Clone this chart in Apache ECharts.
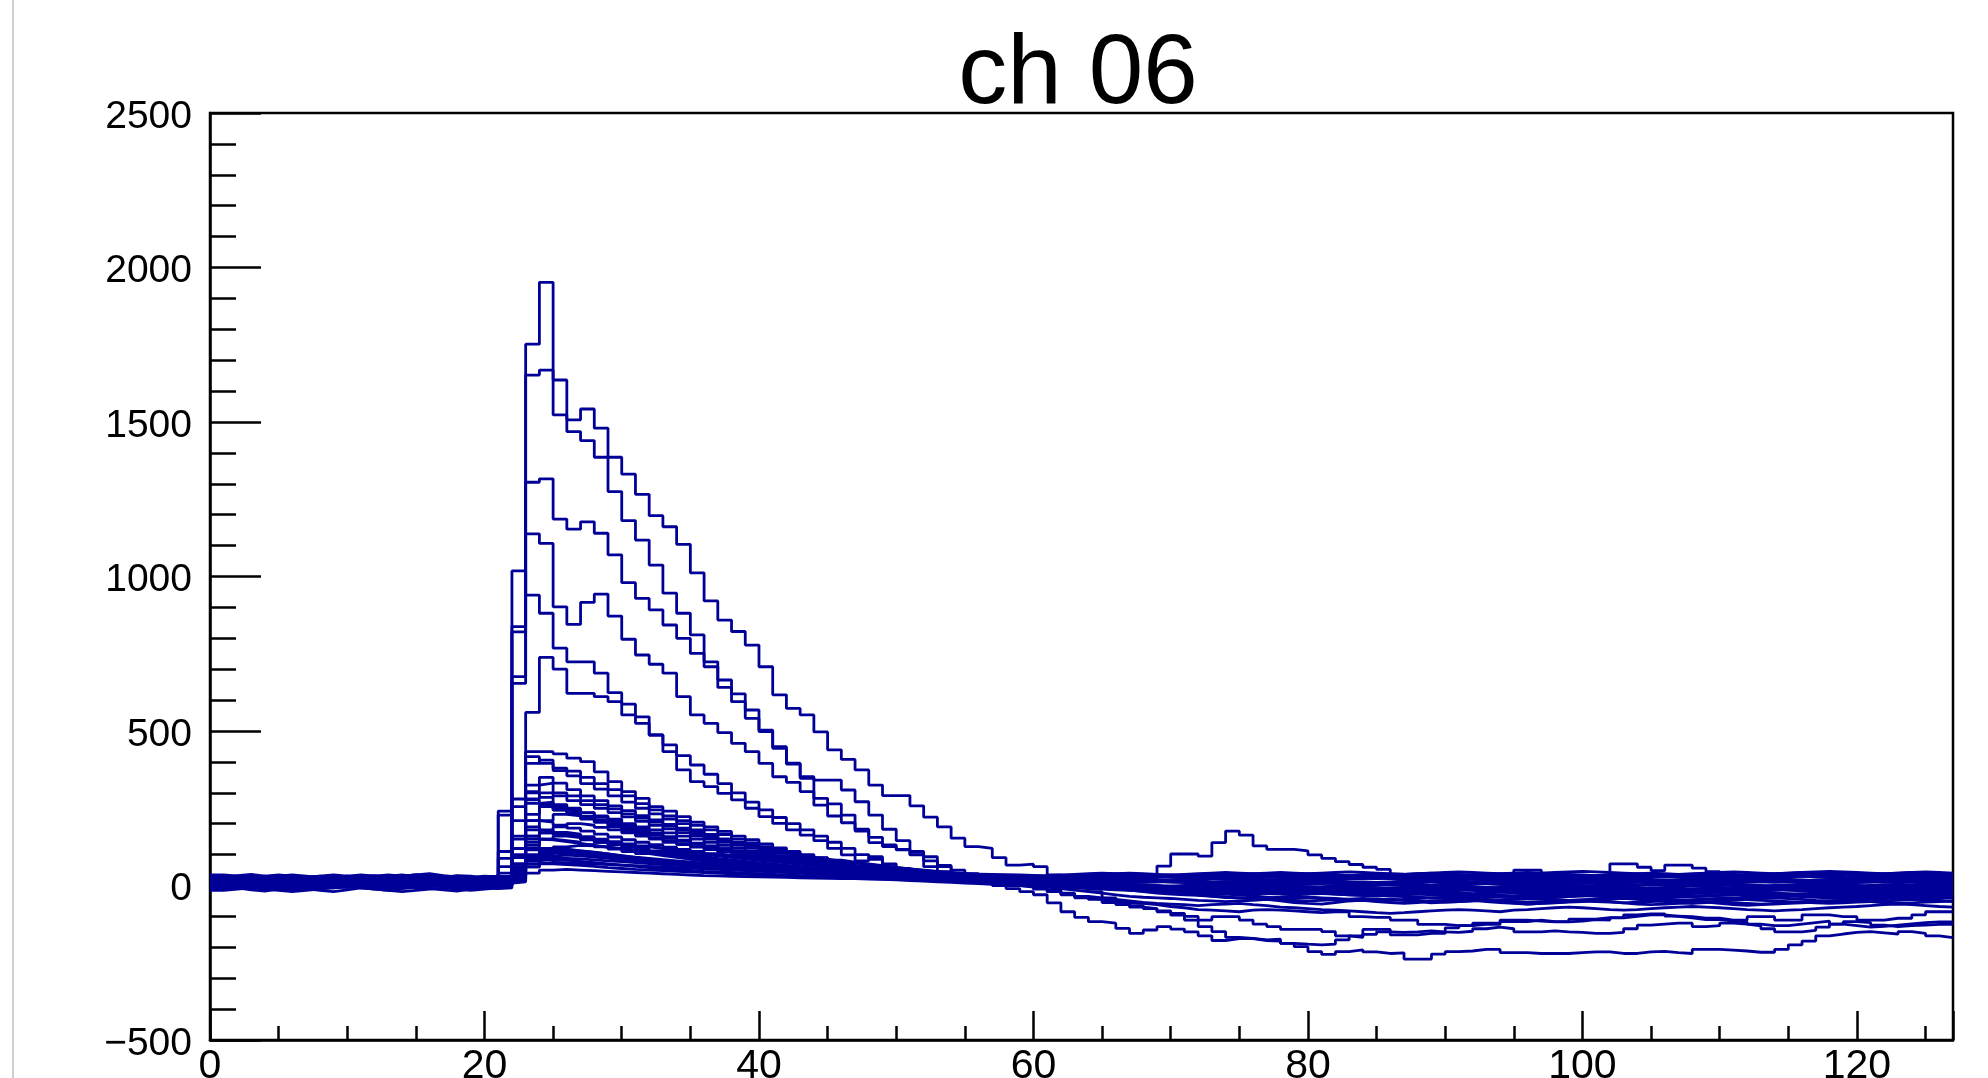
<!DOCTYPE html>
<html>
<head>
<meta charset="utf-8">
<script src="https://cdn.jsdelivr.net/npm/echarts@6/dist/echarts.min.js"></script>
<style>
html,body{margin:0;padding:0;background:#fff;}
#chart{width:1988px;height:1078px;}
</style>
</head>
<body>
<div id="chart"></div>
<script>
// Histogram bins: 0..126 (bin i spans [i, i+1])
const titleText = "ch 06";
const xMin = 0, xMax = 127;
const yMin = -500, yMax = 2500;

const p1 = [
 12,15,10,8,14,18,16,12,10,15,20,18,12,10,8,12,15,18,14,10,12,
 15,838,
 1752,1952,1636,1507,1542,1480,1386,1331,
 1266,1197,1161,1104,1012,921,859,822,778,708,
 617,573,552,497,439,408,374,325,291,291,
 258,221,190,153,126,120,90,66,69,61,
 34,20,5,-20,-40,-55,-65,-75,-85,-96,
 -112,-133,-149,-168,-171,-176,-174,-187,-190,-192,
 -190,-176,-163,-142,-142,-160,-160,-155,-155,-137,
 -130,-122,-122,-112,-112,-115,-118,-118,-115,-110,
 -112,-105,-100,-95,-95,-100,-105,-110,-110,-115,
 -118,-125,-130,-130,-125,-120,-115,-125,-130,-135,
 -132,-128,-124,-120,-118,-118];

const p2 = [
 5,8,12,15,10,6,9,14,18,12,8,5,10,14,16,12,9,6,10,14,8,
 10,821,
 1652,1668,1523,1469,1440,1386,1275,1181,
 1118,1037,946,881,811,724,665,620,568,503,
 449,393,352,341,341,309,271,228,182,145,
 110,93,61,40,25,10,0,-10,-20,-30,
 -56,-85,-103,-117,-122,-139,-155,-144,-133,-141,
 -150,-163,-178,-172,-172,-178,-180,-187,-198,-214,
 -223,-214,-208,-215,-220,-218,-238,-238,-222,-214,
 -212,-207,-207,-217,-217,-220,-220,-220,-217,-215,
 -215,-220,-220,-215,-213,-217,-220,-207,-207,-209,
 -212,-216,-216,-207,-192,-180,-163,-157,-152,-149,
 -153,-157,-149,-155,-163,-169];

const p3 = [
 18,14,10,12,16,20,22,18,14,10,12,16,20,24,18,14,12,16,20,18,15,
 18,676,
 1305,1316,1186,1153,1177,1140,1070,980,
 929,892,843,800,751,708,641,595,541,498,
 444,396,347,282,264,228,182,139,126,117,
 99,61,45,35,25,18,10,5,0,-10,
 -20,-30,-40,-45,-50,-55,-58,-62,-68,-72,
 -78,-80,-82,-85,-80,-78,-80,-82,-85,-88,
 -85,-85,-101,-103,-103,-112,-112,-126,-126,-130,
 -130,-126,-126,-117,-117,-112,-117,-117,-109,-109,
 -104,-104,-95,-92,-92,-99,-101,-106,-106,-112,
 -112,-101,-101,-112,-112,-95,-95,-101,-101,-112,
 -112,-106,-106,-95,-85,-85];

const p4 = [
 0,4,8,6,2,-4,2,6,10,8,4,0,-2,4,8,12,6,2,-2,4,6,
 5,654,
 1138,1107,902,845,916,943,872,797,
 746,716,687,611,552,525,495,460,433,395,
 352,334,304,260,225,203,176,156,131,115,
 100,80,65,50,38,28,20,10,2,-5,
 -15,-25,-35,-45,-55,-62,-70,-75,-82,-90,
 -100,-112,-101,-101,-112,-125,-133,-142,-142,-142,
 -149,-163,-168,-158,-150,-152,-150,-147,-150,-152,
 -148,-140,-135,-140,-150,-150,-147,-150,-152,-155,
 -155,-152,-140,-128,-125,-122,-122,-133,-130,-122,
 -125,-131,-140,-150,-150,-145,-135,-125,-117,-120,
 -128,-133,-130,-128,-126,-126];

const p5 = [
 22,18,14,20,24,28,22,16,20,24,26,22,18,22,26,30,24,20,16,22,25,
 20,1018,
 940,881,768,724,724,687,624,587,
 546,487,433,374,336,320,298,277,250,223,
 201,180,163,145,120,99,80,93,61,50,
 42,35,30,25,20,12,8,0,-5,-12,
 -20,-28,-35,-40,-45,-50,-55,-58,-60,-62,
 -65,-62,-60,-58,-62,-65,-70,-72,-75,-78,
 -80,-82,-85,-88,-90,-88,-85,-82,-80,-78,
 -80,-82,-85,-80,-78,-75,-72,-70,-72,-75,
 -78,-80,-78,-75,-72,-70,-68,-70,-72,-75,
 -78,-80,-82,-80,-78,-75,-72,-70,-68,-65,
 -62,-60,-62,-65,-68,-70];

const p6 = [
 8,12,16,10,6,12,18,14,8,4,10,16,14,8,6,10,14,18,12,8,10,
 12,280,
 560,738,700,622,622,611,595,552,
 525,487,455,420,390,360,330,300,270,245,
 220,200,180,160,140,120,100,85,70,55,
 45,38,30,25,20,15,10,5,0,-5,
 -10,-15,-20,-25,-30,-35,-38,-40,-42,-45,
 -48,-50,-52,-50,-48,-45,-50,-55,-58,-60,
 -55,-50,-48,-52,-55,-58,-55,-50,-48,-45,
 -48,-52,-55,-58,-60,-58,-55,-52,-50,-48,
 -45,-42,-45,-48,-52,-55,-58,-55,-50,-48,
 -45,-42,-40,-42,-45,-48,-50,-48,-45,-42,
 -40,-42,-45,-48,-50,-52];

const p7 = [
 15,10,6,10,14,10,6,2,8,12,16,12,6,4,8,12,8,4,8,12,10,
 8,150,
 433,433,426,412,401,368,336,304,
 282,255,241,223,205,190,175,160,148,135,
 122,110,100,90,80,72,64,56,50,44,
 38,32,28,24,20,18,15,12,10,8,
 5,2,0,-5,-10,-15,-20,-25,-28,-30,
 -32,-35,-38,-40,-42,-40,-38,-35,-38,-40,
 -42,-45,-48,-50,-48,-45,-42,-40,-38,-40,
 -42,-45,-48,-45,-42,-40,-38,-35,-32,-35,
 -38,-40,-42,-45,-48,-50,-48,-45,-42,-40,
 -38,-35,-32,-30,-32,-35,-38,-40,-38,-35,
 -32,-30,-32,-35,-38,-40];

const p8 = [
 2,6,10,14,10,6,2,-2,4,8,12,8,4,0,4,10,14,10,6,2,5,
 4,120,
 417,395,380,370,350,330,310,290,
 265,245,225,210,195,180,165,150,138,126,
 115,105,95,86,78,70,62,55,48,42,
 36,30,26,22,18,14,10,8,5,3,
 0,-2,-5,-8,-10,-12,-10,-8,-12,-15,
 -18,-15,-12,-10,-12,-15,-18,-20,-18,-15,
 -12,-10,-12,-15,-18,-20,-22,-20,-18,-15,
 -12,-15,-18,-20,-22,-25,-22,-20,-18,-15,
 -12,-10,-12,-15,-18,-20,-18,-15,-12,-10,
 -8,-10,-12,-15,-18,-15,-12,-10,-8,-10,
 -12,-15,-18,-15,-12,-10];

const p9 = [
 20,24,18,14,18,22,26,20,16,12,18,22,26,22,18,14,18,24,28,22,18,
 20,90,
 395,406,372,355,330,312,290,270,
 250,232,215,200,180,165,150,138,126,115,
 105,96,88,80,72,65,58,52,46,40,
 35,30,26,22,20,18,16,15,14,12,
 10,12,14,16,18,20,22,24,63,102,
 102,95,139,176,163,128,117,117,112,99,
 88,77,68,59,52,37,30,28,25,22,
 20,18,22,25,20,18,15,12,15,18,
 20,18,15,12,10,12,15,18,20,18,
 15,12,10,12,15,18,20,18,15,12,
 10,12,15,18,20,18];

const p10 = [
 -5,0,4,8,4,0,-4,0,6,10,6,2,-2,2,6,10,6,0,-4,2,4,
 2,60,
 325,331,300,290,275,262,248,232,
 218,205,192,180,168,156,145,134,124,114,
 105,96,88,80,72,65,58,52,46,40,
 35,30,26,22,18,15,12,10,8,5,
 2,0,-2,-5,-8,-10,-12,-15,-18,-20,
 -22,-25,-28,-30,-28,-25,-22,-20,-22,-25,
 -28,-30,-32,-30,-28,-25,-22,-20,-22,-25,
 -28,-30,-32,-35,-32,-30,-28,-25,-22,-20,
 -22,-25,-28,-30,-28,-25,-22,-20,-18,-20,
 -22,-25,-28,-30,-32,-30,-28,-25,-22,-20,
 -22,-25,-28,-30,-28,-25];

const p11 = [
 10,14,18,14,10,6,10,14,18,22,18,14,10,14,18,22,18,14,10,14,18,
 241,255,
 266,270,255,245,235,225,215,200,
 190,180,170,160,150,140,130,120,112,104,
 96,88,80,74,68,62,56,50,45,40,
 36,32,28,25,22,20,18,16,15,14,
 12,14,16,18,15,12,10,12,14,16,
 18,20,22,20,18,16,14,12,14,16,
 18,20,22,24,22,20,18,16,18,20,
 22,24,26,24,50,50,22,20,18,16,
 18,20,22,20,18,16,14,12,14,16,
 18,20,22,20,18,16,14,12,10,12,
 14,16,18,20,22,20];

const p12 = [
 0,-4,-8,-4,0,4,0,-4,-8,-4,0,4,8,4,0,-4,0,4,8,4,0,
 228,210,
 230,255,245,240,220,205,190,178,
 166,155,145,135,126,118,110,102,95,88,
 82,76,70,64,58,52,47,42,38,34,
 30,27,24,21,18,15,12,10,8,6,
 4,2,0,-2,-4,-6,-8,-10,-8,-6,
 -4,-2,0,2,4,2,0,-2,-4,-6,
 -8,-10,-12,-10,-8,-6,-4,-2,0,2,
 4,6,4,2,0,-2,-4,-6,-4,-2,
 2,70,70,59,48,66,66,56,45,35,
 30,25,20,18,15,12,10,8,10,12,
 14,12,10,8,10,12];

const m1 = [
 24,20,26,30,24,18,22,28,32,26,20,24,30,34,28,22,26,32,30,24,20,
 22,60,
 300,285,262,250,236,222,208,195,
 182,170,158,147,137,127,118,110,102,95,
 88,82,76,70,65,60,55,51,47,43,
 40,37,34,31,29,27,25,23,22,21,
 22,24,26,28,30,32,30,28,26,24,
 22,24,26,28,30,28,26,24,22,24,
 26,28,30,32,34,32,30,28,26,28,
 30,32,30,28,26,24,26,28,30,32,
 34,36,34,32,30,28,30,32,34,36,
 34,32,30,28,30,32,34,36,38,36,
 34,32,30,32,34,36];

const m2 = [
 -12,-8,-14,-18,-12,-6,-10,-16,-20,-14,-8,-12,-16,-10,-6,-10,-14,-18,-12,-8,-10,
 -8,45,
 210,260,248,236,224,212,200,188,
 176,165,155,145,136,127,119,111,104,97,
 90,84,78,72,67,62,57,53,49,45,
 41,37,34,31,28,25,22,19,16,13,
 10,6,2,-2,-6,-10,-14,-18,-22,-26,
 -30,-28,-26,-30,-34,-38,-42,-40,-38,-42,
 -46,-50,-48,-46,-44,-48,-52,-56,-54,-52,
 -50,-48,-52,-56,-60,-58,-56,-54,-52,-50,
 -52,-56,-60,-62,-60,-58,-56,-54,-58,-62,
 -64,-62,-60,-58,-56,-54,-52,-50,-48,-52,
 -56,-58,-56,-54,-52,-50];

const m3 = [
 6,10,14,18,14,10,6,2,6,10,14,18,22,18,14,10,6,10,14,18,14,
 110,160,
 210,205,195,186,176,166,157,148,
 140,132,124,117,110,103,97,91,85,80,
 75,70,66,62,58,54,50,47,44,41,
 38,35,32,30,28,26,24,22,20,18,
 16,14,12,10,8,10,12,14,16,18,
 20,22,24,22,20,18,16,14,16,18,
 20,22,24,26,24,22,20,18,16,14,
 12,14,16,18,20,22,24,22,20,18,
 16,14,12,14,16,18,20,22,24,26,
 24,22,20,18,16,14,16,18,20,22,
 24,26,28,26,24,22];

const m4 = [
 28,32,36,30,26,22,26,30,34,30,26,22,26,30,34,38,32,28,24,28,30,
 88,120,
 150,148,142,136,130,124,118,112,
 106,100,95,90,85,80,76,72,68,64,
 60,57,54,51,48,46,44,42,40,38,
 36,35,34,33,32,31,30,30,29,29,
 30,32,34,36,38,40,38,36,34,32,
 30,32,34,36,38,40,42,40,38,36,
 34,32,30,32,34,36,38,40,38,36,
 34,36,38,40,42,40,38,36,34,32,
 34,36,38,40,38,36,34,32,30,32,
 34,36,38,40,42,40,38,36,34,36,
 38,40,42,40,38,36];

const m5 = [
 -16,-12,-8,-12,-16,-20,-16,-12,-8,-4,-8,-12,-16,-20,-16,-12,-8,-12,-16,-12,-8,
 61,90,
 115,120,116,112,107,102,97,92,
 88,84,80,76,72,68,65,62,59,56,
 53,50,47,44,41,38,35,32,29,26,
 23,20,17,14,11,8,5,2,0,-2,
 -4,-6,-8,-10,-12,-14,-16,-18,-20,-22,
 -24,-26,-28,-26,-24,-22,-20,-22,-24,-26,
 -28,-30,-32,-34,-32,-30,-28,-26,-24,-26,
 -28,-30,-32,-34,-36,-34,-32,-30,-28,-26,
 -24,-26,-28,-30,-32,-34,-36,-34,-32,-30,
 -28,-26,-24,-26,-28,-30,-32,-34,-32,-30,
 -28,-26,-24,-22,-24,-26];

const m6 = [
 4,8,12,8,4,0,4,8,12,16,12,8,4,8,12,16,12,8,4,0,4,
 6,30,
 160,210,230,225,215,205,195,184,
 173,163,153,144,135,127,119,111,104,97,
 91,85,79,74,69,64,60,56,52,48,
 45,42,39,36,33,30,27,24,21,18,
 15,12,9,6,3,0,-3,-6,-9,-12,
 -15,-12,-9,-12,-15,-18,-21,-18,-15,-12,
 -9,-12,-15,-18,-21,-24,-21,-18,-15,-12,
 -15,-18,-21,-24,-27,-24,-21,-18,-15,-18,
 -21,-24,-27,-30,-27,-24,-21,-18,-21,-24,
 -27,-30,-33,-30,-27,-24,-21,-24,-27,-30,
 -33,-30,-27,-24,-21,-18];

const m7 = [
 34,30,26,30,34,30,26,22,26,30,34,30,26,30,34,30,26,22,26,30,28,
 30,70,
 160,170,166,160,153,146,139,132,
 125,119,113,107,101,96,91,86,81,77,
 73,69,65,62,59,56,53,50,48,46,
 44,42,40,38,37,36,35,34,33,32,
 34,36,38,40,38,36,34,32,34,36,
 38,40,42,40,38,36,34,36,38,40,
 42,44,42,40,38,36,38,40,42,44,
 42,40,38,36,38,40,42,44,46,44,
 42,40,38,36,34,36,38,40,42,44,
 42,40,38,40,42,44,46,44,42,40,
 38,40,42,44,42,40];

const m8 = [
 10,6,2,-2,2,6,10,14,10,6,2,6,10,14,18,14,10,6,2,6,10,
 8,12,
 70,110,125,130,128,124,120,115,
 110,105,100,95,90,85,80,76,72,68,
 64,60,56,53,50,47,44,41,38,35,
 32,30,28,26,24,22,20,18,16,14,
 12,10,8,6,4,2,0,-2,-4,-6,
 -4,-2,0,-2,-4,-6,-8,-10,-8,-6,
 -4,-6,-8,-10,-12,-10,-8,-6,-4,-2,
 -4,-6,-8,-10,-8,-6,-4,-2,0,-2,
 -4,-6,-8,-10,-12,-14,-12,-10,-8,-6,
 -4,-6,-8,-10,-8,-6,-4,-6,-8,-10,
 -12,-10,-8,-6,-4,-2];

const m9 = [
 18,22,26,22,18,14,18,22,26,30,26,22,18,22,26,30,26,22,18,14,18,
 16,50,
 85,90,88,86,83,80,77,74,
 71,68,65,62,60,58,56,54,52,50,
 48,46,44,42,40,38,36,34,32,30,
 28,26,24,22,20,18,16,14,12,10,
 8,6,4,2,0,-2,-4,-6,-8,-10,
 -12,-14,-16,-14,-12,-10,-8,-6,-8,-10,
 -12,-14,-16,-18,-16,-14,-12,-10,-8,-6,
 -8,-10,-12,-14,-16,-18,-20,-18,-16,-14,
 -12,-10,-8,-10,-12,-14,-16,-18,-20,-22,
 -20,-18,-16,-14,-12,-10,-12,-14,-16,-18,
 -20,-22,-20,-18,-16,-14];

const m10 = [
 -6,-2,2,-2,-6,-10,-6,-2,2,6,2,-2,-6,-2,2,6,2,-2,-6,-2,0,
 2,120,
 280,300,290,275,262,250,236,222,
 208,195,183,171,160,150,140,130,121,113,
 105,98,91,85,79,73,68,63,58,54,
 50,46,42,38,34,30,26,22,18,14,
 10,6,2,-2,-6,-10,-14,-18,-22,-26,
 -30,-34,-38,-40,-42,-44,-46,-48,-50,-48,
 -46,-44,-42,-44,-46,-48,-50,-52,-54,-52,
 -50,-48,-46,-44,-42,-44,-46,-48,-50,-52,
 -54,-56,-54,-52,-50,-48,-46,-44,-42,-44,
 -46,-48,-50,-52,-54,-56,-58,-56,-54,-52,
 -50,-48,-46,-44,-42,-40];

const n1 = [
 12,16,20,16,12,8,12,16,20,24,20,16,12,16,20,24,20,16,12,16,20,
 18,70,
 140,150,160,155,148,140,133,126,
 119,112,106,100,94,88,83,78,73,69,
 65,61,57,54,51,48,45,42,40,38,
 36,34,32,30,28,26,24,22,20,18,
 16,18,20,22,20,18,16,14,12,10,
 8,10,12,14,12,10,8,6,4,6,
 8,10,12,10,8,6,4,2,4,6,
 8,10,12,14,12,10,8,6,8,10,
 12,14,16,14,12,10,8,10,12,14,
 16,18,16,14,12,10,12,14,16,18,
 20,18,16,14,16,18];

const n2 = [
 -4,0,4,0,-4,-8,-4,0,4,8,4,0,-4,0,4,8,12,8,4,0,-2,
 0,55,
 100,105,102,98,95,91,87,83,
 79,75,72,69,66,63,60,57,54,52,
 50,48,46,44,42,40,38,36,34,32,
 30,28,26,24,22,20,18,16,14,12,
 10,8,6,4,2,0,-2,-4,-6,-4,
 -2,0,2,0,-2,-4,-6,-8,-6,-4,
 -2,0,2,4,2,0,-2,-4,-6,-8,
 -10,-8,-6,-4,-2,0,2,0,-2,-4,
 -6,-8,-10,-8,-6,-4,-2,0,2,4,
 2,0,-2,-4,-6,-8,-6,-4,-2,0,
 2,4,2,0,-2,-4];

const n3 = [
 26,22,18,14,18,22,26,30,26,22,18,22,26,30,34,30,26,22,18,22,26,
 24,90,
 190,180,172,166,158,150,142,135,
 128,122,116,110,104,98,93,88,83,79,
 75,71,67,63,60,57,54,51,48,45,
 42,40,38,36,34,32,30,28,27,26,
 25,24,23,22,24,26,28,30,28,26,
 24,22,20,22,24,26,28,30,32,30,
 28,26,24,22,24,26,28,30,28,26,
 24,26,28,30,32,30,28,26,24,22,
 24,26,28,30,28,26,24,22,20,22,
 24,26,28,30,32,30,28,26,24,26,
 28,30,32,30,28,26];

const n4 = [
 0,4,8,12,8,4,0,-4,0,4,8,12,16,12,8,4,0,4,8,12,8,
 40,60,
 70,75,74,72,70,68,66,64,
 62,60,58,56,54,52,50,48,46,44,
 42,40,38,36,35,34,33,32,31,30,
 29,27,28,26,24,25,23,21,22,20,
 18,19,17,15,16,14,12,13,11,10,
 8,10,12,10,8,6,4,6,8,10,
 12,10,8,6,8,10,12,14,12,10,
 8,6,4,2,4,6,8,10,8,6,
 4,2,0,2,4,6,8,6,4,2,
 0,-2,0,2,4,6,4,2,0,-2,
 -4,-2,0,2,4,2];

const s1 = [
 12,8,4,8,12,16,12,8,4,8,12,16,20,16,12,8,12,16,20,16,12,
 14,100,
 180,175,165,160,150,140,132,124,
 116,108,100,93,86,80,74,68,62,57,
 52,48,44,40,36,33,30,27,24,22,
 20,18,16,14,12,10,9,8,7,6,
 5,4,2,0,-2,-4,-6,-8,-10,-12,
 -14,-16,-18,-20,-22,-20,-18,-16,-18,-20,
 -22,-24,-26,-28,-30,-28,-26,-24,-26,-28,
 -30,-32,-34,-36,-38,-40,-38,-36,-34,-32,
 -30,-32,-34,-36,-38,-36,-34,-32,-30,-28,
 -30,-32,-34,-32,-30,-28,-26,-28,-30,-32,
 -34,-36,-34,-32,-30,-28];

const s2 = [
 25,22,18,22,26,30,26,22,18,22,26,30,34,30,26,22,26,30,28,24,22,
 24,40,
 130,150,145,140,132,125,118,110,
 103,97,91,85,80,75,70,65,61,57,
 53,50,47,44,41,38,36,34,32,30,
 29,28,27,26,25,24,24,23,22,22,
 24,26,28,30,32,30,28,26,28,30,
 32,34,32,30,28,30,32,34,36,34,
 32,30,28,30,32,34,36,34,32,30,
 28,30,32,34,36,38,36,34,32,30,
 28,30,32,34,36,34,32,30,28,30,
 32,34,36,38,40,38,36,34,32,34,
 36,38,40,38,36,34];

const s3 = [
 -10,-6,-2,-6,-10,-14,-10,-6,-2,2,-2,-6,-10,-6,-2,2,-2,-6,-10,-6,-2,
 0,30,
 95,120,118,112,108,102,96,90,
 85,80,76,72,68,64,60,56,52,49,
 46,43,40,37,34,31,28,25,22,20,
 18,16,14,12,10,8,6,4,2,0,
 -2,-4,-6,-8,-10,-8,-6,-4,-2,0,
 2,0,-2,-4,-6,-8,-10,-12,-10,-8,
 -6,-4,-2,0,2,4,2,0,-2,-4,
 -6,-8,-10,-12,-14,-12,-10,-8,-6,-4,
 -2,0,2,4,2,0,-2,-4,-6,-8,
 -10,-8,-6,-4,-2,0,2,0,-2,-4,
 -6,-8,-6,-4,-2,0];

const s4 = [
 30,26,22,26,30,34,30,26,22,26,30,32,28,24,28,32,30,26,22,26,30,
 28,60,
 90,95,98,96,92,88,84,80,
 76,72,68,65,62,59,56,53,50,48,
 46,44,42,40,38,36,35,34,33,32,
 31,30,30,29,28,28,27,26,26,25,
 26,28,30,32,34,36,34,32,30,28,
 26,28,30,32,34,32,30,28,26,28,
 30,32,34,32,30,28,26,24,26,28,
 30,32,34,36,34,32,30,28,26,24,
 26,28,30,32,34,36,34,32,30,28,
 26,28,30,32,30,28,26,24,26,28,
 30,32,34,36,34,32];

const s5 = [
 5,2,-2,2,6,10,6,2,-2,-6,-2,2,6,10,6,2,-2,2,6,10,6,
 4,25,
 60,70,68,65,62,58,55,52,
 50,48,46,44,42,40,38,36,34,33,
 32,31,30,29,28,27,26,25,24,23,
 22,21,20,19,18,17,16,15,14,13,
 12,10,8,6,4,2,0,-2,-4,-6,
 -8,-10,-12,-10,-8,-6,-8,-10,-12,-14,
 -16,-18,-20,-18,-16,-14,-12,-10,-12,-14,
 -16,-18,-20,-22,-20,-18,-16,-14,-12,-10,
 -12,-14,-16,-18,-20,-18,-16,-14,-12,-10,
 -8,-10,-12,-14,-16,-18,-16,-14,-12,-10,
 -12,-14,-16,-18,-16,-14];

const s6 = [
 16,20,24,20,16,12,16,20,24,28,24,20,16,12,16,20,24,20,16,12,16,
 14,18,
 120,170,190,200,195,188,180,170,
 160,150,140,132,124,116,108,100,92,85,
 78,72,66,60,55,50,46,42,38,35,
 32,29,26,24,22,20,18,16,14,12,
 10,8,6,8,10,12,14,16,14,12,
 10,8,6,4,6,8,10,12,10,8,
 6,4,6,8,10,12,14,12,10,8,
 6,8,10,12,14,16,14,12,10,8,
 6,8,10,12,10,8,6,4,6,8,
 10,12,14,12,10,8,6,8,10,12,
 14,16,14,12,10,8];

const s7 = [
 -2,2,6,2,-2,-6,-2,2,6,10,6,2,-2,2,6,10,14,10,6,2,0,
 4,50,
 277,266,244,232,222,212,200,188,
 176,165,154,144,134,125,116,108,100,93,
 86,80,74,68,63,58,54,50,46,42,
 38,35,32,29,26,23,20,17,14,12,
 10,8,6,4,2,0,-2,-4,-6,-8,
 -10,-12,-14,-16,-18,-20,-18,-16,-14,-12,
 -10,-12,-14,-16,-18,-20,-22,-20,-18,-16,
 -14,-12,-10,-12,-14,-16,-18,-20,-18,-16,
 -14,-12,-10,-8,-10,-12,-14,-16,-18,-16,
 -14,-12,-10,-8,-6,-8,-10,-12,-14,-16,
 -18,-16,-14,-12,-10,-8];

const s8 = [
 20,16,12,16,20,24,20,16,12,8,12,16,20,24,20,16,12,16,20,24,20,
 18,22,
 60,100,110,105,100,95,90,85,
 80,76,72,68,64,60,57,54,51,48,
 45,42,40,38,36,34,32,30,28,26,
 24,22,20,18,16,14,12,10,8,6,
 4,2,0,-2,-4,-6,-8,-10,-12,-14,
 -16,-18,-20,-22,-24,-26,-28,-30,-28,-26,
 -24,-22,-20,-22,-24,-26,-28,-30,-32,-34,
 -36,-38,-36,-34,-32,-30,-28,-26,-28,-30,
 -32,-34,-36,-38,-40,-38,-36,-34,-32,-30,
 -28,-30,-32,-34,-36,-38,-40,-42,-40,-38,
 -36,-34,-32,-30,-28,-26];

const s9 = [
 8,4,0,4,8,12,8,4,0,-4,0,4,8,12,16,12,8,4,0,4,8,
 6,35,
 304,350,331,310,290,275,258,242,
 226,212,198,186,174,162,150,140,130,121,
 112,104,96,89,82,76,70,64,59,54,
 49,45,41,37,33,30,27,24,21,18,
 15,12,10,8,6,4,2,0,-2,-4,
 -6,-8,-10,-12,-14,-16,-18,-20,-22,-24,
 -26,-28,-30,-32,-34,-36,-38,-40,-42,-44,
 -46,-48,-50,-52,-54,-52,-50,-48,-46,-44,
 -42,-40,-42,-44,-46,-48,-50,-52,-54,-56,
 -58,-60,-58,-56,-54,-52,-50,-48,-46,-44,
 -42,-40,-38,-36,-34,-32];

const b1 = [
 14,10,6,10,14,18,22,18,14,10,6,10,14,18,22,18,14,10,14,18,14,
 12,20,
 40,50,52,50,48,46,44,42,
 40,38,36,34,32,31,30,29,28,27,
 26,25,24,23,22,22,21,21,20,20,
 19,19,18,18,17,17,16,16,15,15,
 16,18,20,22,24,22,20,18,16,14,
 12,10,12,14,16,18,20,18,16,14,
 12,10,8,10,12,14,16,18,16,14,
 12,10,8,6,8,10,12,14,16,18,
 16,14,12,10,12,14,16,18,20,22,
 20,18,16,14,12,14,16,18,20,22,
 24,22,20,18,20,22];

const b2 = [
 2,-2,-6,-10,-6,-2,2,6,2,-2,-6,-2,2,6,10,6,2,-2,-6,-2,2,
 4,40,
 80,85,82,78,74,70,66,62,
 58,55,52,49,46,44,42,40,38,36,
 34,32,30,28,26,24,22,20,18,16,
 14,12,10,8,6,4,2,0,-2,-4,
 -6,-8,-10,-12,-14,-16,-18,-20,-22,-20,
 -18,-16,-14,-16,-18,-20,-22,-24,-22,-20,
 -18,-16,-14,-12,-14,-16,-18,-20,-22,-24,
 -26,-24,-22,-20,-18,-16,-14,-12,-14,-16,
 -18,-20,-22,-24,-26,-28,-26,-24,-22,-20,
 -18,-16,-14,-12,-14,-16,-18,-20,-22,-24,
 -22,-20,-18,-16,-14,-12];

const traces = [b1, b2, n1, n2, n3, n4, m9, m8, m7, m6, m5, m4, m3, m2, m1, m10,
                s1, s2, s3, s4, s5, s6, s7, s8, s9,
                p12, p11, p10, p9, p8, p7, p6, p5, p4, p3, p2, p1];

const lineColor = '#000099';

function toSteps(vals) {
  const pts = vals.map((v, i) => [i, v]);
  pts.push([vals.length, vals[vals.length - 1]]);
  return pts;
}

const chart = echarts.init(document.getElementById('chart'), null, {renderer: 'canvas'});
const fontFam = '"Liberation Sans", Arial, Helvetica, sans-serif';

chart.setOption({
  animation: false,
  backgroundColor: '#ffffff',
  title: {
    text: titleText,
    left: 1073,
    top: 22,
    textAlign: 'center',
    textStyle: {fontFamily: fontFam, fontSize: 98, fontWeight: 'normal', color: '#000'}
  },
  grid: {
    left: 210, right: 35, top: 113, bottom: 38,
    containLabel: false,
    outerBoundsMode: 'none',
    show: true, borderColor: '#000', borderWidth: 2.5, backgroundColor: 'transparent'
  },
  xAxis: {
    type: 'value', min: xMin, max: xMax, interval: 20,
    axisLine: {show: true, onZero: false, lineStyle: {color: '#000', width: 2.5}},
    axisTick: {show: true, inside: true, length: 29, lineStyle: {color: '#000', width: 2.5}},
    minorTick: {show: true, splitNumber: 4, length: 14, lineStyle: {color: '#000', width: 2.5}},
    splitLine: {show: false},
    axisLabel: {
      fontFamily: fontFam, fontSize: 41, color: '#000', margin: 6,
      showMaxLabel: false,
      formatter: v => String(v)
    }
  },
  yAxis: {
    type: 'value', min: yMin, max: yMax, interval: 500,
    axisLine: {show: true, onZero: false, lineStyle: {color: '#000', width: 2.5}},
    axisTick: {show: true, inside: true, length: 51, lineStyle: {color: '#000', width: 2.5}},
    minorTick: {show: true, splitNumber: 5, length: 26, lineStyle: {color: '#000', width: 2.5}},
    splitLine: {show: false},
    axisLabel: {
      fontFamily: fontFam, fontSize: 39, color: '#000', margin: 18,
      verticalAlign: 'top', lineHeight: 8,
      formatter: v => String(v).replace('-', '\u2212')
    }
  },
  graphic: [{
    type: 'line', shape: {x1: 13, y1: 0, x2: 13, y2: 1078},
    style: {stroke: '#cfcfcf', lineWidth: 2}, silent: true
  }],
  series: traces.map(t => ({
    type: 'line',
    step: 'end',
    data: toSteps(t),
    showSymbol: false,
    symbol: 'none',
    clip: true,
    silent: true,
    lineStyle: {color: lineColor, width: 2.8},
    itemStyle: {color: lineColor}
  }))
});
</script>
</body>
</html>
